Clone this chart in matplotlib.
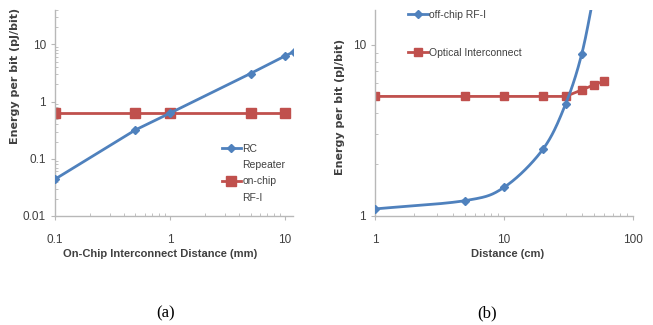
import numpy as np
import matplotlib
matplotlib.use("Agg")
import matplotlib.pyplot as plt
from matplotlib.lines import Line2D

plt.rcParams['font.family'] = ['Liberation Sans', 'DejaVu Sans']

# (a) on-chip
dist_mm = [0.1, 0.5, 1, 5, 10, 12]
rc_repeater = [0.044, 0.32, 0.63, 3.1, 6.3, 7.5]
rfi_mm = [0.1, 0.5, 1, 5, 10]
onchip_rfi = [0.62, 0.62, 0.62, 0.62, 0.62]

# (b) off-chip
dist_cm = [1, 5, 10, 20, 30, 40, 50]
offchip_rfi = [1.1, 1.23, 1.47, 2.45, 4.5, 8.8, 20.0]
opt_cm = [1, 5, 10, 20, 30, 40, 50, 60]
optical = [5.0, 5.0, 5.0, 5.0, 5.0, 5.45, 5.85, 6.15]

BLUE = '#4f81bd'
RED = '#c0504d'
GREY = '#b8b8b8'
TXT = '#404040'


def smooth(x, y, n=30):
    # catmull-rom in log space, just for drawing the smoothed excel line
    lx, ly = np.log10(x), np.log10(y)
    px = np.concatenate([[2 * lx[0] - lx[1]], lx, [2 * lx[-1] - lx[-2]]])
    py = np.concatenate([[2 * ly[0] - ly[1]], ly, [2 * ly[-1] - ly[-2]]])
    ox, oy = [], []
    t = np.linspace(0, 1, n)
    for i in range(1, len(px) - 2):
        for p, o in ((px, ox), (py, oy)):
            p0, p1, p2, p3 = p[i - 1], p[i], p[i + 1], p[i + 2]
            o.extend(0.5 * (2 * p1 + (-p0 + p2) * t
                            + (2 * p0 - 5 * p1 + 4 * p2 - p3) * t ** 2
                            + (-p0 + 3 * p1 - 3 * p2 + p3) * t ** 3))
    return 10 ** np.array(ox), 10 ** np.array(oy)


def style(ax):
    ax.set_xscale('log')
    ax.set_yscale('log')
    for s in ('top', 'right'):
        ax.spines[s].set_visible(False)
    for s in ('left', 'bottom'):
        ax.spines[s].set_color(GREY)
        ax.spines[s].set_linewidth(1.0)
    ax.tick_params(which='major', length=3, color=GREY, labelsize=8.5,
                   labelcolor=TXT)
    ax.tick_params(which='minor', length=2, color=GREY, direction='in')
    ax.tick_params(axis='x', which='major', pad=10)
    ax.set_ylabel('Energy per bit (pJ/bit)', fontsize=8, fontweight='bold',
                  color=TXT, family=['DejaVu Sans'])


fig = plt.figure(figsize=(6.53, 3.25), dpi=100)
ax1 = fig.add_axes([0.0842, 0.3354, 0.3645, 0.6338])
ax2 = fig.add_axes([0.5743, 0.3354, 0.395, 0.6338])

# panel (a)
style(ax1)
ax1.yaxis.set_label_coords(-0.147, 0.68)
ax1.plot(dist_mm, rc_repeater, color=BLUE, lw=2, marker='D', ms=4,
         mfc=BLUE, mec=BLUE, zorder=3)
ax1.plot(rfi_mm, onchip_rfi, color=RED, lw=2, marker='s', ms=7.5,
         mfc=RED, mec=RED, zorder=2)
ax1.set_xlim(0.1, 11.7)
ax1.set_ylim(0.01, 40)
ax1.set_xticks([0.1, 1, 10])
ax1.set_xticklabels(['0.1', '1', '10'])
ax1.set_yticks([0.01, 0.1, 1, 10])
ax1.set_yticklabels(['0.01', '0.1', '1', '10'])
ax1.set_xlabel('On-Chip Interconnect Distance (mm)', fontsize=8,
               color=TXT, fontweight='bold')
ax1.xaxis.set_label_coords(0.44, -0.16)
h_blue = Line2D([], [], color=BLUE, lw=2, marker='D', ms=4)
h_red = Line2D([], [], color=RED, lw=2, marker='s', ms=7)
h_none = Line2D([], [], color='none')
ax1.legend([h_blue, h_none, h_red, h_none],
           ['RC', 'Repeater', 'on-chip', 'RF-I'],
           loc='upper left', bbox_to_anchor=(0.70, 0.35), frameon=False,
           fontsize=7.5, labelcolor=TXT, handlelength=1.9, handletextpad=0.1,
           labelspacing=0.6, borderaxespad=0, borderpad=0)

# panel (b)
style(ax2)
ax2.yaxis.set_label_coords(-0.116, 0.53)
sx, sy = smooth(dist_cm, offchip_rfi)
ax2.plot(sx, sy, color=BLUE, lw=2, zorder=3)
ax2.plot(dist_cm, offchip_rfi, ls='none', marker='D', ms=4, mfc=BLUE,
         mec=BLUE, zorder=3)
ax2.plot(opt_cm, optical, color=RED, lw=2, marker='s', ms=6,
         mfc=RED, mec=RED, zorder=2)
ax2.set_xlim(1, 100)
ax2.set_ylim(1, 16)
ax2.set_xticks([1, 10, 100])
ax2.set_xticklabels(['1', '10', '100'])
ax2.set_yticks([1, 10])
ax2.set_yticklabels(['1', '10'])
ax2.set_xlabel('Distance (cm)', fontsize=8, color=TXT, fontweight='bold')
ax2.xaxis.set_label_coords(0.515, -0.16)
h_red2 = Line2D([], [], color=RED, lw=2, marker='s', ms=6)
ax2.legend([h_blue, h_red2], ['off-chip RF-I', 'Optical Interconnect'],
           loc='upper left', bbox_to_anchor=(0.128, 1.0), frameon=False,
           fontsize=7.5, labelcolor=TXT, handlelength=1.9, handletextpad=0.1,
           labelspacing=2.7, borderaxespad=0, borderpad=0)

fig.text(0.253, 0.037, '(a)', fontsize=12, family=['Liberation Serif'],
         ha='center', va='center')
fig.text(0.746, 0.037, '(b)', fontsize=12, family=['Liberation Serif'],
         ha='center', va='center')

fig.savefig('out.png', dpi=100)
